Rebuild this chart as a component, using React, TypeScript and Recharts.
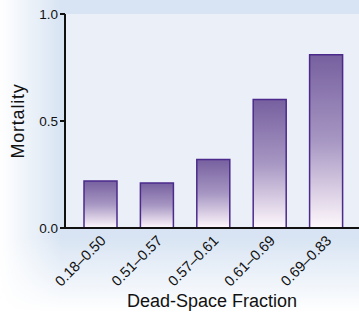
import React from 'react';
import { BarChart, Bar, XAxis, YAxis, CartesianGrid, Label } from 'recharts';

const categories = ['0.18–0.50', '0.51–0.57', '0.57–0.61', '0.61–0.69', '0.69–0.83'];
const mortality = [0.22, 0.21, 0.32, 0.6, 0.81];
const yTicks = [0, 0.5, 1];

const data = categories.map((range, i) => ({ range, mortality: mortality[i] }));

const FONT = '"Liberation Sans", Arial, sans-serif';

const AngledTick = (props: any) => {
    const { x, y, payload } = props;
    const px = x + 6.5;
    const py = y + 5.5;
    return (
        <text
            x={px}
            y={py}
            transform={`rotate(-45, ${px}, ${py})`}
            textAnchor="end"
            fontSize={14.5}
            fontFamily={FONT}
            fill="#111"
        >
            {payload.value}
        </text>
    );
};

export default function App() {
    return (
        <div
            style={{
                position: 'absolute',
                left: 0,
                top: 0,
                width: 359,
                height: 312,
                background:
                    'linear-gradient(to top, #ffffff 0px, rgba(255,255,255,0) 75px), linear-gradient(to right, #ffffff 0px, rgba(255,255,255,0) 62px), #d8e4f3',
            }}
        >
            <BarChart
                width={359}
                height={312}
                data={data}
                margin={{ top: 14, right: 0, left: 0, bottom: 0 }}
                barSize={33}
            >
                <defs>
                    <linearGradient id="barFill" x1="0" y1="0" x2="0" y2="1">
                        <stop offset="0%" stopColor="#77609f" />
                        <stop offset="50%" stopColor="#a797c3" />
                        <stop offset="100%" stopColor="#fff8fc" />
                    </linearGradient>
                </defs>
                <CartesianGrid fill="#eaeff8" horizontal={false} vertical={false} />
                <XAxis
                    dataKey="range"
                    height={84}
                    padding={{ left: 7, right: 5 }}
                    tickLine={false}
                    axisLine={{ stroke: '#111', strokeWidth: 2 }}
                    tick={<AngledTick />}
                    interval={0}
                >
                    <Label
                        value="Dead-Space Fraction"
                        position="insideBottom"
                        offset={5}
                        style={{ fontSize: 18, fontFamily: FONT, fill: '#111' }}
                    />
                </XAxis>
                <YAxis
                    width={65}
                    domain={[0, 1]}
                    ticks={yTicks}
                    tickFormatter={(v: number) => v.toFixed(1)}
                    tickSize={5}
                    tickMargin={2}
                    tickLine={{ stroke: '#111', strokeWidth: 2 }}
                    axisLine={{ stroke: '#111', strokeWidth: 2 }}
                    tick={{ fontSize: 13.5, fontFamily: FONT, fill: '#111' }}
                >
                    <Label
                        value="Mortality"
                        angle={-90}
                        position="insideLeft"
                        offset={18}
                        style={{ fontSize: 18, letterSpacing: 0.8, fontFamily: FONT, fill: '#111', textAnchor: 'middle' }}
                    />
                </YAxis>
                <Bar
                    dataKey="mortality"
                    fill="url(#barFill)"
                    stroke="#4b2a8c"
                    strokeWidth={1.5}
                    isAnimationActive={false}
                />
            </BarChart>
        </div>
    );
}
